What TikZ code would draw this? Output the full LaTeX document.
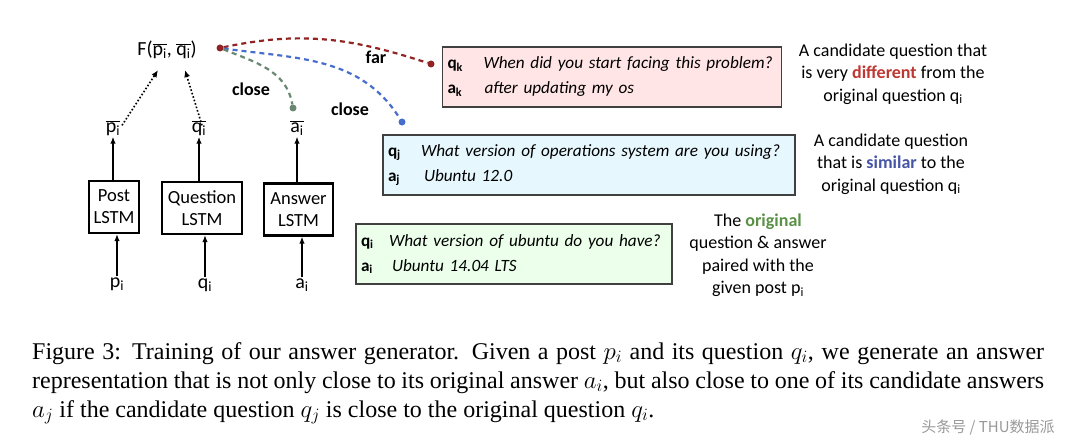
\documentclass[tikz,border=0pt]{standalone}
\usepackage{fontspec}
\setmainfont{Carlito}
\newfontfamily\capfont{Liberation Serif}
\newfontfamily\cjkfont{Noto Sans CJK SC}
\usepackage{xcolor}
\usetikzlibrary{arrows.meta}
\definecolor{far-red}{RGB}{145,35,35}
\definecolor{word-red}{RGB}{190,55,50}
\definecolor{close-blue}{RGB}{72,110,205}
\definecolor{word-blue}{RGB}{70,85,165}
\definecolor{close-green}{RGB}{105,135,115}
\definecolor{word-green}{RGB}{90,145,70}
\newcommand{\barvar}[1]{$\overline{\mbox{#1\textsubscript{i}}}$}
\newcommand{\qaline}[3]{\mbox{\makebox[#1][l]{\textbf{#2}}\textit{#3}}}
\tikzset{
    lstm-box/.style = {draw, line width=2.2pt, minimum height=52pt, inner sep=2pt, align=center, font=\fontsize{18.5}{22}\selectfont},
    qa-box/.style = {draw=black!75, line width=1.4pt, minimum height=60pt, inner sep=5pt, align=left, font=\fontsize{17.2}{25}\selectfont},
    var/.style = {inner sep=1pt, font=\fontsize{20}{22}\selectfont},
    link-dot/.style = {circle, inner sep=0pt, minimum size=7pt},
    link-label/.style = {font=\fontsize{18}{20}\selectfont\bfseries},
    sim-line/.style = {line width=2.2pt, dash pattern=on 5pt off 4pt},
    up-arrow/.style = {-{Latex[length=7pt,width=5.5pt]}, line width=1.7pt},
    dot-arrow/.style = {-{Latex[length=7pt,width=6pt]}, line width=1.6pt, dotted},
    note/.style = {align=center, font=\fontsize{18}{22.5}\selectfont},
}

\begin{document}
\begin{tikzpicture}[x=1pt, y=-1pt]
\useasboundingbox (0,0) rectangle (1080,444);
% encoders
\node[lstm-box, minimum width=50pt] (post) at (114,207) {Post\\LSTM};
\node[lstm-box, minimum width=80pt] (question) at (202,208) {Question\\LSTM};
\node[lstm-box, minimum width=69pt] (answer) at (298.5,209.5) {Answer\\LSTM};
\node[var] (p) at (117,284) {p\textsubscript{i}};
\node[var] (q) at (205,285) {q\textsubscript{i}};
\node[var] (a) at (302,285) {a\textsubscript{i}};
\node[var] (p-bar) at (113,128) {\barvar{p}};
\node[var] (q-bar) at (199,128) {\barvar{q}};
\node[var] (a-bar) at (297,128) {\barvar{a}};
\node[var] (f) at (167,50) {F(\barvar{p}, \barvar{q})};
\foreach \x/\b in {p/post, q/question, a/answer} {
    \draw[up-arrow] (\x.north) -- (\x |- \b.south);
    \draw[up-arrow] (\x-bar |- \b.north) -- (\x-bar.south);
}
\draw[dot-arrow] ([xshift=9pt,yshift=-6pt]p-bar.north) -- ([xshift=-9pt,yshift=-10pt]f.south);
\draw[dot-arrow] ([xshift=3pt,yshift=-6pt]q-bar.north) -- ([xshift=18pt,yshift=-10pt]f.south);

% candidate pairs
\node[qa-box, fill=red!10, text width=329pt] (pair-k) at (612,77)
    {\qaline{36pt}{q\textsubscript{k}}{When did you start facing this problem?}\\
     \qaline{37pt}{a\textsubscript{k}}{after updating my os}};
\node[qa-box, fill=cyan!10, text width=402pt] (pair-j) at (589,165)
    {\qaline{33pt}{q\textsubscript{j}}{What version of operations system are you using?}\\
     \qaline{36pt}{a\textsubscript{j}}{Ubuntu 12.0}};
\node[qa-box, fill=green!8, text width=306pt] (pair-i) at (514,254)
    {\qaline{28pt}{q\textsubscript{i}}{What version of ubuntu do you have?}\\
     \qaline{31pt}{a\textsubscript{i}}{Ubuntu 14.04 LTS}};

% distances
\node[link-dot, fill=far-red] (f-dot) at (220,48) {};
\node[link-dot, fill=far-red] (k-dot) at (431,64) {};
\node[link-dot, fill=close-blue] (j-dot) at (402,122) {};
\node[link-dot, fill=close-green] (a-dot) at (293,108) {};
\draw[sim-line, far-red] (f-dot) to[out=12, in=162] (k-dot);
\draw[sim-line, close-blue] (f-dot) to[out=-8, in=122] (j-dot);
\draw[sim-line, close-green] (f-dot) to[out=-22, in=100] (a-dot);
\node[link-label] (far) at (376,57) {far};
\node[link-label] (close-a) at (251,89) {close};
\node[link-label] (close-j) at (350,109) {close};

% notes
\node[note] (note-k) at (893,74) {A candidate question that\\is very \textbf{\color{word-red}different} from the\\original question q\textsubscript{i}};
\node[note] (note-j) at (891,164) {A candidate question\\that is \textbf{\color{word-blue}similar} to the\\original question q\textsubscript{i}};
\node[note] (note-i) at (758,255) {The \textbf{\color{word-green}original}\\question \& answer\\paired with the\\given post p\textsubscript{i}};

% caption
\begin{scope}[every node/.style={anchor=base west, inner sep=0pt, font=\capfont\fontsize{24}{29}\selectfont}]
\node (cap-1) at (32,359) {\makebox[1012pt][s]{Figure 3: Training of our answer generator. Given a post $p_i$ and its question $q_i$, we generate an answer}};
\node (cap-2) at (32,388) {\makebox[1012pt][s]{representation that is not only close to its original answer $a_i$, but also close to one of its candidate answers}};
\node (cap-3) at (32,417) {$a_j$ if the candidate question $q_j$ is close to the original question $q_i$.};
\end{scope}
\node[text=black!40, font=\cjkfont\fontsize{15}{17}\selectfont] (mark) at (988,428) {头条号 / THU数据派};
\end{tikzpicture}
\end{document}
